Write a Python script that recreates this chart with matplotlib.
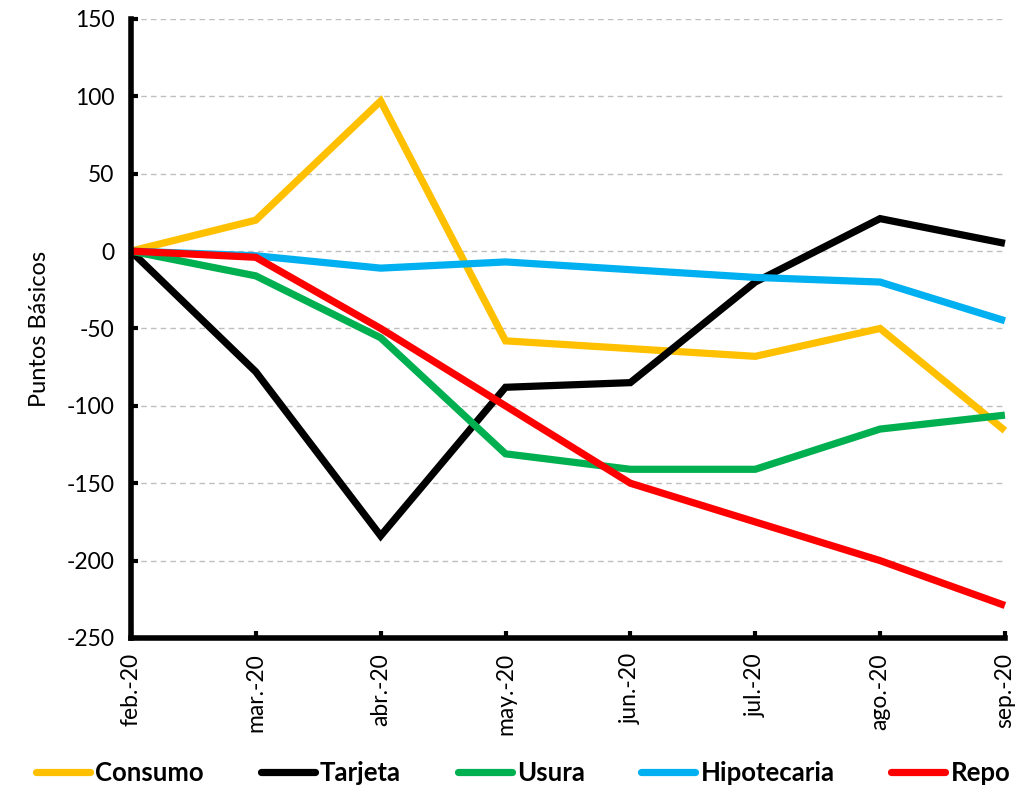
import matplotlib.pyplot as plt

months = ["feb.-20", "mar.-20", "abr.-20", "may.-20", "jun.-20", "jul.-20", "ago.-20", "sep.-20"]

consumo = [0, 20, 97, -58, -63, -68, -50, -116]
tarjeta = [0, -78, -184, -88, -85, -20, 21, 5]
usura = [0, -16, -56, -131, -141, -141, -115, -106]
hipotecaria = [0, -3, -11, -7, -12, -17, -20, -45]
repo = [0, -4, -50, -100, -150, -175, -200, -229]

series = [
    ("Consumo", consumo, "#FFC000"),
    ("Tarjeta", tarjeta, "#000000"),
    ("Usura", usura, "#00B050"),
    ("Hipotecaria", hipotecaria, "#00B0F0"),
    ("Repo", repo, "#FF0000"),
]

plt.rcParams['font.family'] = ['Lato', 'DejaVu Sans']
plt.rcParams['axes.unicode_minus'] = False

fig = plt.figure(figsize=(10.36, 7.85), dpi=100)
ax = fig.add_axes([0.1264, 0.1873, 0.8436, 0.7885])

x = list(range(len(months)))
for name, vals, col in series:
    ax.plot(x, vals, color=col, linewidth=5.2, label=name, solid_capstyle='butt',
            solid_joinstyle='miter', clip_on=False)

ax.set_xlim(0, len(months) - 1)
ax.set_ylim(-250, 150)
ax.set_yticks(range(-250, 151, 50))
ax.set_xticks(x)
ax.set_xticklabels(months, rotation=90, fontsize=16.5)
ax.tick_params(axis='y', labelsize=16.5, direction='in', length=5, width=3, pad=12)
ax.tick_params(axis='x', direction='in', length=5, width=3, pad=11)

ax.yaxis.grid(True, linestyle=(0, (4, 3)), color='#BFBFBF', linewidth=1)
ax.set_axisbelow(True)

for s in ['top', 'right']:
    ax.spines[s].set_visible(False)
for s in ['left', 'bottom']:
    ax.spines[s].set_linewidth(4)

ax.set_ylabel("Puntos Básicos", fontsize=17, labelpad=12)

leg = fig.legend(loc='lower left', bbox_to_anchor=(0.025, -0.013, 0.96, 0.03), mode='expand',
                 ncol=5, frameon=False, handlelength=2.1, handletextpad=0.2,
                 prop={'weight': 'bold', 'size': 18.5}, borderaxespad=0)
for h in leg.get_lines():
    h.set_solid_capstyle('round')

fig.savefig("out.png", dpi=100)
